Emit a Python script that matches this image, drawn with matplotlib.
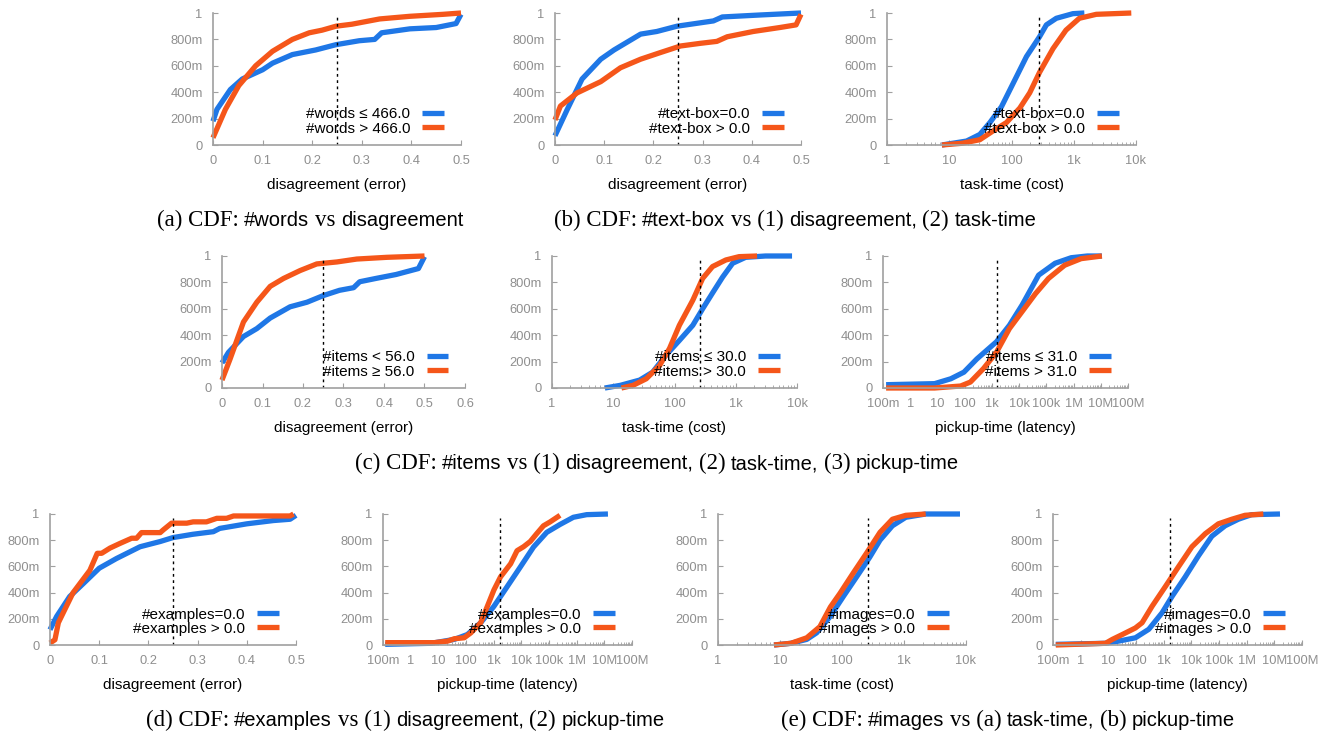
import matplotlib
matplotlib.use('Agg')
import matplotlib.pyplot as plt
import numpy as np
from matplotlib.ticker import LogLocator, NullFormatter

W, H = 1326, 736
BLUE = '#1f77e6'
ORANGE = '#f5561a'
GRAY = '#8f8f8f'
SANS = ['Liberation Sans', 'DejaVu Sans']
SERIF = ['Liberation Serif', 'DejaVu Serif']

# ---- data (x, CDF) ----
# (a) #words vs disagreement
a_blue_x = [0, 0.008, 0.035, 0.059, 0.1, 0.12, 0.16, 0.207, 0.248, 0.295, 0.326, 0.34, 0.397, 0.45, 0.49, 0.5]
a_blue_y = [0.18, 0.27, 0.42, 0.50, 0.57, 0.62, 0.685, 0.72, 0.76, 0.79, 0.80, 0.85, 0.88, 0.89, 0.92, 0.99]
a_orng_x = [0, 0.025, 0.052, 0.086, 0.12, 0.16, 0.194, 0.22, 0.248, 0.28, 0.336, 0.397, 0.464, 0.5]
a_orng_y = [0.055, 0.27, 0.45, 0.60, 0.71, 0.80, 0.85, 0.87, 0.90, 0.915, 0.955, 0.975, 0.99, 1.0]

# (b1) #text-box vs disagreement
b1_blue_x = [0, 0.025, 0.055, 0.093, 0.12, 0.174, 0.207, 0.248, 0.322, 0.34, 0.417, 0.5]
b1_blue_y = [0.07, 0.27, 0.50, 0.65, 0.72, 0.84, 0.86, 0.90, 0.94, 0.97, 0.985, 1.0]
b1_orng_x = [0, 0.011, 0.045, 0.093, 0.133, 0.174, 0.214, 0.255, 0.295, 0.329, 0.35, 0.403, 0.457, 0.49, 0.5]
b1_orng_y = [0.19, 0.295, 0.395, 0.48, 0.585, 0.65, 0.70, 0.75, 0.77, 0.785, 0.82, 0.86, 0.89, 0.91, 0.99]

# (b2) #text-box vs task-time
b2_blue_x = [7.6, 19, 31, 45, 69, 107, 174, 282, 363, 525, 970, 1480]
b2_blue_y = [0, 0.03, 0.08, 0.17, 0.29, 0.47, 0.67, 0.82, 0.91, 0.96, 0.995, 1.0]
b2_orng_x = [7.6, 16, 31, 50, 83, 136, 196, 282, 464, 750, 1230, 2300, 8400]
b2_orng_y = [0, 0.013, 0.04, 0.105, 0.17, 0.28, 0.395, 0.55, 0.73, 0.87, 0.96, 0.99, 1.0]

# (c1) #items vs disagreement
c1_blue_x = [0, 0.016, 0.053, 0.086, 0.119, 0.168, 0.21, 0.25, 0.29, 0.325, 0.34, 0.38, 0.43, 0.485, 0.5]
c1_blue_y = [0.19, 0.27, 0.39, 0.45, 0.53, 0.615, 0.65, 0.70, 0.74, 0.76, 0.805, 0.83, 0.86, 0.905, 0.995]
c1_orng_x = [0, 0.02, 0.053, 0.086, 0.119, 0.152, 0.193, 0.234, 0.284, 0.333, 0.407, 0.5]
c1_orng_y = [0.06, 0.22, 0.50, 0.65, 0.77, 0.83, 0.89, 0.94, 0.955, 0.977, 0.99, 1.0]

# (c2) #items vs task-time
c2_blue_x = [7.3, 13, 27, 44, 73, 120, 199, 288, 418, 610, 890, 1450, 3060, 8300]
c2_blue_y = [0, 0.02, 0.06, 0.12, 0.25, 0.36, 0.475, 0.60, 0.72, 0.84, 0.945, 0.99, 1.0, 1.0]
c2_orng_x = [13.6, 21, 34.6, 57, 83, 120, 199, 288, 418, 690, 1130, 2230]
c2_orng_y = [0, 0.02, 0.07, 0.17, 0.30, 0.475, 0.665, 0.83, 0.92, 0.97, 0.995, 1.0]

# (c3) #items vs pickup-time
c3_blue_x = [0.13, 7.9, 31, 94, 280, 1470, 4400, 13000, 52000, 2.1e5, 8.2e5, 3.2e6, 1.1e7]
c3_blue_y = [0.025, 0.033, 0.07, 0.12, 0.22, 0.35, 0.475, 0.63, 0.855, 0.945, 0.987, 1.0, 1.0]
c3_orng_x = [0.13, 7.9, 71, 162, 490, 1470, 4400, 13000, 40000, 1.2e5, 4.7e5, 1.9e6, 1.1e7]
c3_orng_y = [0, 0, 0.015, 0.045, 0.147, 0.27, 0.45, 0.58, 0.715, 0.83, 0.93, 0.98, 1.0]

# (d1) #examples vs disagreement
d1_blue_x = [0, 0.0135, 0.04, 0.068, 0.1, 0.135, 0.183, 0.224, 0.25, 0.29, 0.332, 0.345, 0.4, 0.454, 0.488, 0.5]
d1_blue_y = [0.117, 0.218, 0.37, 0.47, 0.586, 0.66, 0.75, 0.79, 0.82, 0.845, 0.865, 0.89, 0.925, 0.95, 0.96, 0.99]
d1_orng_x = [0, 0.01, 0.017, 0.03, 0.047, 0.064, 0.081, 0.096, 0.105, 0.122, 0.142, 0.166, 0.176, 0.186,
             0.224, 0.23, 0.247, 0.278, 0.291, 0.318, 0.339, 0.359, 0.373, 0.488, 0.495]
d1_orng_y = [0.015, 0.04, 0.17, 0.27, 0.40, 0.485, 0.57, 0.70, 0.70, 0.74, 0.775, 0.815, 0.815, 0.858,
             0.858, 0.878, 0.93, 0.93, 0.94, 0.94, 0.967, 0.967, 0.985, 0.985, 1.0]

# (d2) #examples vs pickup-time
d2_blue_x = [0.12, 5.5, 38, 112, 340, 1020, 3090, 9300, 27600, 83000, 2.5e5, 7.6e5, 2.3e6, 1.35e7]
d2_blue_y = [0.005, 0.013, 0.043, 0.08, 0.17, 0.295, 0.446, 0.597, 0.748, 0.86, 0.92, 0.975, 0.995, 1.0]
d2_orng_x = [0.12, 7.2, 22, 38, 86, 150, 340, 590, 1020, 1770, 4100, 7000, 12000, 21000, 36000, 63000, 1.1e5, 2.5e5]
d2_orng_y = [0.018, 0.018, 0.03, 0.048, 0.055, 0.093, 0.17, 0.295, 0.42, 0.52, 0.62, 0.72, 0.75, 0.79, 0.85, 0.91, 0.94, 0.99]

# (e1) #images vs task-time
e1_blue_x = [8, 15, 27, 39, 65, 105, 172, 280, 410, 650, 1070, 2240, 8000]
e1_blue_y = [0, 0.013, 0.043, 0.093, 0.22, 0.37, 0.52, 0.67, 0.80, 0.91, 0.975, 1.0, 1.0]
e1_orng_x = [8, 15, 27, 44, 65, 93, 152, 248, 410, 650, 1070, 2240]
e1_orng_y = [0, 0.013, 0.055, 0.14, 0.29, 0.395, 0.55, 0.70, 0.86, 0.96, 0.99, 1.0]

# (e2) #images vs pickup-time
e2_blue_x = [0.126, 7.9, 24, 95, 290, 870, 2000, 6000, 18000, 55000, 1.66e5, 5e5, 1.5e6, 1.6e7]
e2_blue_y = [0.005, 0.013, 0.03, 0.055, 0.12, 0.245, 0.37, 0.52, 0.68, 0.83, 0.91, 0.96, 0.995, 1.0]
e2_orng_x = [0.126, 7.9, 14, 32, 95, 166, 380, 1150, 3500, 10500, 32000, 95000, 2.9e5, 8.7e5, 4e6]
e2_orng_y = [0, 0.013, 0.043, 0.08, 0.13, 0.17, 0.295, 0.446, 0.60, 0.75, 0.85, 0.925, 0.96, 0.99, 1.0]

y_ticks = [0, 0.2, 0.4, 0.6, 0.8, 1.0]
y_labels = ['0', '200m', '400m', '600m', '800m', '1']
task_ticks = [1, 10, 100, 1e3, 1e4]
task_labels = ['1', '10', '100', '1k', '10k']
pick_ticks = [0.1, 1, 10, 100, 1e3, 1e4, 1e5, 1e6, 1e7, 1e8]
pick_labels = ['100m', '1', '10', '100', '1k', '10k', '100k', '1M', '10M', '100M']

fig = plt.figure(figsize=(W / 100, H / 100), dpi=100)


def px_rect(left, right, top, bottom):
    return [left / W, 1 - bottom / H, (right - left) / W, (bottom - top) / H]


def draw_panel(rect, xb, yb, xo, yo, labels, kind, vline, xmax=0.5):
    ax = fig.add_axes(rect)
    lb, = ax.plot(xb, yb, color=BLUE, lw=3.8, clip_on=False, solid_capstyle='butt')
    lo, = ax.plot(xo, yo, color=ORANGE, lw=3.8, clip_on=False, solid_capstyle='butt')
    ax.axvline(vline, ymax=0.97, color='k', ls=(0, (2, 2.5)), lw=1)

    if kind == 'err':
        ax.set_xlim(0, xmax)
        ticks = np.round(np.arange(0, xmax + 0.01, 0.1), 1)
        ax.set_xticks(ticks)
        ax.set_xticklabels(['%g' % t for t in ticks])
        ax.set_xlabel('disagreement (error)')
    else:
        ax.set_xscale('log')
        if kind == 'task':
            ax.set_xlim(1, 1e4)
            ax.set_xticks(task_ticks)
            ax.set_xticklabels(task_labels)
            ax.set_xlabel('task-time (cost)')
        else:
            ax.set_xlim(0.1, 1e8)
            ax.set_xticks(pick_ticks)
            ax.set_xticklabels(pick_labels)
            ax.set_xlabel('pickup-time (latency)')
        ax.xaxis.set_minor_locator(LogLocator(base=10, subs=np.arange(2, 10), numticks=30))
        ax.xaxis.set_minor_formatter(NullFormatter())

    ax.set_ylim(0, 1)
    ax.set_yticks(y_ticks)
    ax.set_yticklabels(y_labels)
    for s in ['top', 'right']:
        ax.spines[s].set_visible(False)
    for s in ['left', 'bottom']:
        ax.spines[s].set_color('#a0a0a0')
        ax.spines[s].set_linewidth(1.2)
    ax.tick_params(which='major', direction='in', length=3.5, color='#a0a0a0',
                   labelcolor=GRAY, labelsize=9.3, pad=7.5)
    ax.tick_params(axis='x', which='major', pad=7)
    ax.tick_params(which='minor', direction='in', length=2, color='#a0a0a0')
    for t in ax.get_xticklabels() + ax.get_yticklabels():
        t.set_family(SANS)
    ax.xaxis.label.set_family(SANS)
    ax.xaxis.label.set_size(11)
    ax.xaxis.labelpad = 8

    ax.legend([lb, lo], labels, loc='lower right', bbox_to_anchor=(0.93, 0.07),
              frameon=False, markerfirst=False, handlelength=1.4, handletextpad=0.8,
              labelspacing=0.02, borderpad=0, borderaxespad=0,
              prop=dict(family=SANS, size=11))
    return ax


draw_panel(px_rect(213, 461, 13, 145), a_blue_x, a_blue_y, a_orng_x, a_orng_y,
           ['#words ≤ 466.0', '#words > 466.0'], 'err', 0.25)
draw_panel(px_rect(555, 801, 13, 145), b1_blue_x, b1_blue_y, b1_orng_x, b1_orng_y,
           ['#text-box=0.0', '#text-box > 0.0'], 'err', 0.25)
draw_panel(px_rect(887, 1136, 13, 145), b2_blue_x, b2_blue_y, b2_orng_x, b2_orng_y,
           ['#text-box=0.0', '#text-box > 0.0'], 'task', 272)

draw_panel(px_rect(222, 465, 256, 388), c1_blue_x, c1_blue_y, c1_orng_x, c1_orng_y,
           ['#items < 56.0', '#items ≥ 56.0'], 'err', 0.25, xmax=0.6)
draw_panel(px_rect(552, 797, 256, 388), c2_blue_x, c2_blue_y, c2_orng_x, c2_orng_y,
           ['#items ≤ 30.0', '#items > 30.0'], 'task', 265)
draw_panel(px_rect(883, 1128, 256, 388), c3_blue_x, c3_blue_y, c3_orng_x, c3_orng_y,
           ['#items ≤ 31.0', '#items > 31.0'], 'pick', 1550)

draw_panel(px_rect(50, 296, 514, 645), d1_blue_x, d1_blue_y, d1_orng_x, d1_orng_y,
           ['#examples=0.0', '#examples > 0.0'], 'err', 0.25)
draw_panel(px_rect(383, 632, 514, 645), d2_blue_x, d2_blue_y, d2_orng_x, d2_orng_y,
           ['#examples=0.0', '#examples > 0.0'], 'pick', 1700)
draw_panel(px_rect(718, 966, 514, 645), e1_blue_x, e1_blue_y, e1_orng_x, e1_orng_y,
           ['#images=0.0', '#images > 0.0'], 'task', 265)
draw_panel(px_rect(1053, 1302, 514, 645), e2_blue_x, e2_blue_y, e2_orng_x, e2_orng_y,
           ['#images=0.0', '#images > 0.0'], 'pick', 1700)

# captions mix a serif face with a sans face, as in the paper; 's' = serif, 'f' = sans
captions = [
    ([('(a) CDF:', 's'), ('#words', 'f'), ('vs', 's'), ('disagreement', 'f')], 310, 220),
    ([('(b) CDF:', 's'), ('#text-box', 'f'), ('vs (1)', 's'), ('disagreement,', 'f'),
      ('(2)', 's'), ('task-time', 'f')], 795, 220),
    ([('(c) CDF:', 's'), ('#items', 'f'), ('vs (1)', 's'), ('disagreement,', 'f'),
      ('(2)', 's'), ('task-time,', 'f'), ('(3)', 's'), ('pickup-time', 'f')], 657, 463),
    ([('(d) CDF:', 's'), ('#examples', 'f'), ('vs (1)', 's'), ('disagreement,', 'f'),
      ('(2)', 's'), ('pickup-time', 'f')], 405, 720),
    ([('(e) CDF:', 's'), ('#images', 'f'), ('vs (a)', 's'), ('task-time,', 'f'),
      ('(b)', 's'), ('pickup-time', 'f')], 1008, 720),
]

renderer = fig.canvas.get_renderer()
gap = 5.5  # px between words
for parts, cx, cy in captions:
    texts = []
    for word, face in parts:
        if face == 's':
            t = fig.text(0, 1 - cy / H, word, ha='left', va='baseline', family=SERIF, size=16.5)
        else:
            t = fig.text(0, 1 - cy / H, word, ha='left', va='baseline', family=SANS, size=14.5)
        texts.append(t)
    widths = [t.get_window_extent(renderer).width for t in texts]
    total = sum(widths) + gap * (len(texts) - 1)
    x = cx - total / 2
    for t, w in zip(texts, widths):
        t.set_x(x / W)
        t.set_y(1 - (cy + 6) / H)
        x += w + gap

fig.savefig('out.png', dpi=100)
